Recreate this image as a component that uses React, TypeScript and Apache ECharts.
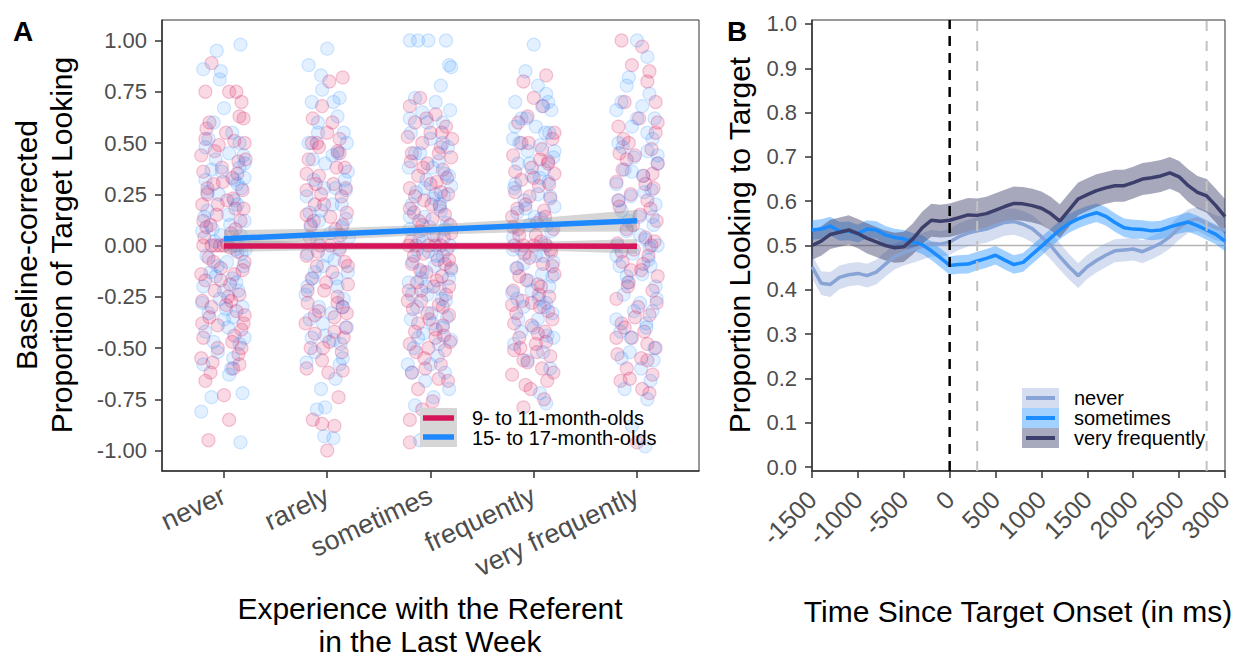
import React, { useEffect, useRef } from "react";
import * as echarts from "echarts";

const FONT = '"Liberation Sans", Arial, Helvetica, sans-serif';

// ---------- Panel A data ----------
const categories = ["never", "rarely", "sometimes", "frequently", "very frequently"];
const ageGroups = ["9- to 11-month-olds", "15- to 17-month-olds"];
const yTicksA = [-1, -0.75, -0.5, -0.25, 0, 0.25, 0.5, 0.75, 1];
const catTicks = [1, 2, 3, 4, 5];

// [jitter offset from category, baseline-corrected proportion]
const youngNever = [[-0.12,0.89],[0.12,0.75],[-0.18,0.75],[0.05,0.75],[0.17,0.70],[0.15,0.63],[-0.14,0.6],[-0.17,0.57],[0.2,0.5],[-0.05,0.49],[0.1,0.51],[-0.22,0.44],[0.14,0.41],[-0.02,0.38],[-0.2,0.36],[0.08,0.33],[-0.1,0.3],[0.18,0.27],[-0.16,0.25],[0.03,0.22],[-0.21,0.2],[0.11,0.18],[-0.07,0.15],[0.16,0.12],[-0.13,0.1],[0.07,0.06],[-0.19,0.04],[-0.08,0],[-0.04,0],[-0.12,0],[0.0,0],[-0.2,0],[0.13,-0.03],[-0.15,-0.06],[0.2,-0.08],[-0.03,-0.11],[0.1,-0.14],[-0.18,-0.17],[0.06,-0.19],[-0.09,-0.22],[0.15,-0.24],[-0.21,-0.27],[0.02,-0.29],[0.12,-0.32],[-0.14,-0.35],[0.19,-0.38],[0.17,-0.41],[-0.2,-0.45],[0.08,-0.47],[-0.06,-0.5],[0.14,-0.53],[-0.22,-0.55],[-0.11,-0.57],[0.09,-0.6],[-0.18,-0.66],[0.0,-0.73],[0.05,-0.85],[-0.15,-0.95],
  [0.21,0.42],[-0.01,0.31],[0.19,0.18],[-0.17,0.09],[0.06,-0.01],[-0.1,-0.08],[0.18,-0.12],[-0.22,-0.14],[0.04,-0.25],[-0.12,-0.3],[0.2,-0.34],[-0.06,-0.39],[0.1,-0.44],[-0.16,0.28],[0.13,0.35],[-0.09,0.46],[0.02,0.55],[0.19,0.62],[-0.2,0.12],[0.09,0.23],[-0.03,-0.17],[0.15,-0.58],[-0.13,-0.62],[0.03,0.01],[-0.21,-0.38],[0.11,0.08],[-0.06,0.2],[0.17,-0.5],[-0.18,0.52],[0.07,-0.27]];
const youngRarely = [[-0.15,0.5],[0.02,0.8],[0.15,0.82],[-0.05,0.68],[0.0,0.55],[-0.1,0.5],[0.1,0.46],[-0.18,0.42],[0.17,0.38],[-0.08,0.34],[0.06,0.3],[-0.2,0.27],[0.14,0.24],[-0.03,0.2],[0.19,0.16],[-0.13,0.12],[0.08,0.08],[-0.17,0.04],[0.03,0.0],[-0.07,0.0],[0.12,-0.02],[-0.2,-0.05],[0.17,-0.08],[-0.1,-0.1],[0.05,-0.13],[-0.15,-0.16],[0.2,-0.19],[-0.03,-0.22],[0.1,-0.25],[-0.19,-0.28],[0.15,-0.3],[-0.08,-0.32],[0.07,-0.35],[-0.21,-0.38],[0.18,-0.4],[-0.12,-0.43],[0.02,-0.47],[-0.16,-0.5],[0.14,-0.52],[-0.05,-0.56],[-0.2,-0.6],[0.15,-0.61],[0.11,-0.74],[-0.14,-0.85],[-0.05,-0.87],[0.07,-0.88],[0.0,-1.0],[0.12,0.45],[-0.12,0.2],
  [0.09,0.38],[-0.2,0.35],[0.18,0.28],[-0.06,0.25],[0.03,0.14],[-0.16,0.1],[0.13,0.05],[-0.09,-0.03],[0.2,-0.1],[-0.01,-0.18],[-0.19,-0.22],[0.1,-0.28],[-0.12,-0.34],[0.16,-0.45],[-0.04,-0.5],[0.05,0.6],[-0.14,0.62],[0.12,0.52],[0.01,-0.62],[-0.08,0.48],[0.19,-0.33],[-0.2,0.15],[0.07,-0.42],[-0.11,0.3],[0.15,0.1]];
const youngSometimes = [[-0.2,0.68],[-0.22,0.53],[-0.1,0.72],[0.05,0.64],[-0.15,0.6],[0.15,0.58],[0.0,0.55],[-0.08,0.5],[0.1,0.48],[-0.18,0.45],[0.2,0.43],[-0.03,0.4],[0.12,0.37],[-0.12,0.34],[0.06,0.31],[-0.2,0.28],[0.17,0.25],[-0.06,0.22],[0.09,0.19],[-0.16,0.16],[0.02,0.13],[0.19,0.1],[-0.1,0.07],[0.13,0.04],[-0.19,0.02],[-0.02,0],[0.05,0],[0.1,0],[-0.14,0],[0.16,-0.02],[-0.07,-0.04],[0.07,-0.07],[-0.18,-0.09],[0.2,-0.11],[-0.04,-0.13],[0.11,-0.15],[-0.13,-0.18],[0.03,-0.2],[-0.21,-0.22],[0.15,-0.24],[-0.09,-0.27],[0.08,-0.29],[-0.17,-0.31],[0.18,-0.34],[-0.01,-0.36],[0.12,-0.39],[-0.15,-0.42],[0.05,-0.45],[-0.2,-0.48],[0.14,-0.51],[-0.06,-0.55],[0.1,-0.58],[-0.18,-0.62],[0.17,-0.66],[-0.12,-0.7],[0.02,-0.76],[-0.08,-0.8],[-0.2,-0.85],[0.0,0.3],[0.18,-0.2],[-0.11,0.12],[0.08,0.45],[-0.05,-0.6],[-0.2,-0.96],[0.13,-0.44],
  [0.21,0.52],[-0.04,0.62],[0.1,0.26],[-0.2,0.18],[0.14,0.15],[-0.08,0.1],[0.03,0.05],[-0.16,-0.05],[0.18,-0.07],[-0.1,-0.12],[0.06,-0.17],[-0.22,-0.27],[0.12,-0.3],[-0.03,-0.33],[0.19,-0.47],[-0.14,-0.52],[0.08,-0.65],[-0.07,0.38],[0.16,0.33],[-0.19,0.41],[0.01,0.2],[-0.12,-0.38],[0.2,0.06],[-0.02,-0.5],[0.11,0.55],[-0.15,0.24],[0.05,-0.41],[-0.09,-0.22],[0.14,-0.09],[-0.21,0.0]];
const youngFrequently = [[-0.1,0.8],[0.12,0.83],[0.0,0.72],[-0.15,0.6],[0.18,0.52],[-0.05,0.5],[0.08,0.47],[-0.2,0.44],[0.14,0.41],[-0.02,0.38],[0.2,0.35],[-0.12,0.32],[0.05,0.29],[-0.18,0.26],[0.16,0.23],[-0.08,0.2],[0.1,0.17],[-0.21,0.14],[0.03,0.11],[0.19,0.08],[-0.14,0.05],[0.07,0.02],[-0.19,0],[-0.1,0],[0.0,0],[0.12,0],[0.17,-0.03],[-0.04,-0.06],[0.09,-0.09],[-0.16,-0.11],[0.2,-0.14],[-0.07,-0.17],[0.04,-0.19],[-0.2,-0.22],[0.15,-0.25],[-0.11,-0.27],[0.06,-0.3],[-0.17,-0.33],[0.18,-0.36],[-0.02,-0.39],[0.11,-0.42],[-0.14,-0.45],[0.02,-0.48],[-0.19,-0.51],[0.16,-0.54],[-0.06,-0.57],[0.08,-0.6],[-0.21,-0.63],[0.13,-0.66],[-0.03,-0.7],[0.1,-0.75],[-0.1,-0.79],[-0.15,0.08],[0.05,-0.24],[0.14,0.4],[-0.13,-0.5],
  [0.2,0.55],[-0.12,0.5],[0.06,0.42],[-0.18,0.36],[0.15,0.3],[-0.04,0.24],[0.11,0.14],[-0.2,0.09],[0.02,0.05],[-0.09,-0.04],[0.18,-0.1],[-0.14,-0.15],[0.07,-0.2],[-0.02,-0.28],[0.14,-0.32],[-0.19,-0.38],[0.04,-0.43],[-0.1,-0.56],[0.19,-0.62],[-0.06,0.63],[0.09,0.68],[-0.16,0.18],[0.12,-0.47],[-0.21,-0.29],[0.0,0.33],[0.16,-0.02],[-0.08,-0.68],[0.03,-0.52]];
const youngVeryFrequently = [[-0.15,1.0],[0.05,0.97],[-0.05,0.88],[0.12,0.85],[0.1,0.8],[-0.12,0.7],[0.02,0.62],[-0.18,0.58],[0.18,0.55],[-0.08,0.5],[0.14,0.47],[-0.02,0.44],[0.2,0.4],[-0.14,0.37],[0.06,0.34],[-0.2,0.31],[0.16,0.28],[-0.06,0.25],[0.1,0.22],[-0.17,0.19],[0.03,0.15],[0.19,0.12],[-0.1,0.08],[0.08,0.04],[-0.19,0.01],[0.14,0],[-0.03,-0.02],[0.11,-0.05],[-0.14,-0.08],[0.04,-0.12],[0.2,-0.15],[-0.08,-0.18],[0.15,-0.22],[-0.2,-0.26],[0.01,-0.3],[0.12,-0.34],[-0.15,-0.38],[0.07,-0.42],[-0.05,-0.45],[0.18,-0.5],[-0.19,-0.53],[0.1,-0.56],[-0.1,-0.6],[0.15,-0.63],[-0.16,-0.66],[0.05,-0.7],[0.0,-0.96],[-0.12,-0.4],[0.18,0.7],[-0.06,-0.12],
  [0.2,0.6],[-0.1,0.42],[0.08,0.3],[-0.18,0.22],[0.13,0.18],[-0.04,0.1],[0.17,0.02],[-0.15,-0.03],[0.06,-0.09],[-0.09,-0.2],[0.19,-0.28],[-0.02,-0.35],[0.1,-0.48],[-0.2,-0.45],[0.04,-0.55],[-0.13,0.52],[0.15,0.35],[-0.07,-0.65],[0.12,-0.72],[-0.17,0.45]];

const oldNever = [[-0.2,0.86],[-0.07,0.95],[0.16,0.98],[-0.03,0.85],[-0.04,0.81],[0.0,0.67],[-0.1,0.6],[0.15,0.5],[-0.18,0.48],[0.05,0.45],[0.2,0.4],[-0.12,0.37],[0.1,0.32],[0.17,0.28],[-0.05,0.25],[0.13,0.2],[-0.16,0.17],[0.2,0.12],[0.06,0.1],[-0.21,0.07],[0.16,0.05],[-0.09,0.02],[0.11,-0.02],[-0.17,-0.05],[0.03,-0.08],[0.19,-0.1],[-0.13,-0.13],[0.08,-0.16],[-0.2,-0.2],[0.14,-0.22],[-0.04,-0.26],[0.18,-0.3],[-0.15,-0.33],[0.0,-0.36],[-0.18,-0.42],[0.15,-0.48],[-0.06,-0.52],[0.09,-0.55],[-0.2,-0.58],[0.05,-0.63],[-0.12,-0.74],[0.18,-0.72],[-0.22,-0.81],[0.16,-0.96],[0.2,0.33],[-0.08,0.42],[0.04,-0.4],[0.12,0.0],
  [0.08,0.55],[-0.15,0.52],[0.19,0.44],[-0.02,0.36],[0.1,0.22],[-0.19,0.14],[0.04,0.15],[-0.11,0.08],[0.17,-0.04],[-0.06,-0.1],[0.12,-0.18],[-0.21,-0.28],[0.02,-0.31],[0.2,-0.45],[-0.1,-0.47],[0.13,0.3],[-0.16,0.26],[0.07,-0.6],[-0.03,0.05],[0.15,0.38],[-0.08,-0.15],[0.21,-0.02],[-0.18,0.32],[0.0,-0.22],[0.09,-0.35]];
const oldRarely = [[0.0,0.96],[-0.18,0.88],[-0.06,0.83],[0.06,0.7],[-0.05,0.76],[0.12,0.72],[-0.15,0.7],[0.1,0.63],[-0.09,0.6],[0.16,0.55],[-0.18,0.5],[0.05,0.44],[-0.02,0.4],[0.2,0.36],[-0.13,0.32],[0.08,0.28],[-0.2,0.24],[0.14,0.2],[-0.06,0.17],[0.18,0.13],[-0.16,0.09],[0.03,0.06],[-0.1,0.03],[0.12,-0.01],[-0.19,-0.04],[0.07,-0.07],[-0.04,-0.1],[0.2,-0.13],[-0.14,-0.16],[0.1,-0.2],[-0.21,-0.24],[0.16,-0.26],[-0.08,-0.3],[0.04,-0.33],[-0.17,-0.36],[0.19,-0.4],[-0.02,-0.44],[0.13,-0.48],[-0.12,-0.52],[0.15,-0.55],[-0.2,-0.57],[-0.06,-0.7],[-0.1,-0.8],[-0.02,-0.79],[0.06,-0.94],[-0.03,-0.93],[0.08,-0.65],[0.18,0.27],
  [0.1,0.45],[-0.14,0.42],[0.17,0.32],[-0.03,0.28],[0.05,0.2],[-0.17,0.16],[0.14,0.09],[-0.08,0.12],[0.21,0.04],[0.0,-0.05],[-0.12,-0.13],[0.09,-0.16],[-0.19,-0.2],[0.15,-0.3],[-0.04,-0.38],[0.06,-0.46],[-0.15,-0.45],[0.19,0.5],[-0.09,0.55],[0.12,-0.58]];
const oldSometimes = [[-0.2,1.0],[-0.12,1.0],[-0.02,1.0],[0.15,1.0],[0.18,0.88],[0.2,0.87],[-0.15,0.72],[0.05,0.7],[-0.08,0.65],[0.12,0.6],[-0.19,0.55],[0.0,0.52],[0.17,0.48],[-0.1,0.45],[0.08,0.41],[-0.21,0.38],[0.14,0.35],[-0.04,0.32],[0.2,0.29],[-0.14,0.26],[0.03,0.23],[-0.18,0.2],[0.1,0.17],[-0.06,0.14],[0.16,0.11],[-0.2,0.08],[0.06,0.05],[-0.11,0.03],[0.19,0.0],[-0.02,-0.03],[0.12,-0.05],[-0.17,-0.08],[0.04,-0.1],[-0.08,-0.13],[0.18,-0.16],[-0.21,-0.18],[0.09,-0.21],[-0.03,-0.24],[0.15,-0.27],[-0.13,-0.3],[0.01,-0.33],[-0.19,-0.36],[0.12,-0.4],[-0.07,-0.43],[0.2,-0.46],[-0.16,-0.5],[0.07,-0.54],[-0.22,-0.58],[0.14,-0.62],[-0.05,-0.66],[0.18,-0.7],[-0.15,-0.78],[0.03,-0.74],[-0.1,-0.95],[0.1,0.78],[-0.18,-0.62],[0.05,0.25],[-0.04,-0.2],
  [0.12,0.5],[-0.15,0.45],[0.02,0.38],[0.18,0.34],[-0.06,0.28],[0.09,0.2],[-0.2,0.14],[0.14,0.08],[-0.01,0.09],[-0.13,-0.02],[0.06,-0.05],[0.2,-0.12],[-0.09,-0.16],[0.11,-0.26],[-0.18,-0.24],[0.02,-0.38],[0.16,-0.35],[-0.12,-0.45],[0.08,-0.48],[-0.03,0.6],[0.19,0.66],[-0.2,0.62],[0.0,-0.58],[0.13,0.24],[-0.07,0.02]];
const oldFrequently = [[0.0,0.98],[-0.08,0.85],[0.04,0.78],[0.12,0.74],[-0.18,0.7],[0.08,0.68],[0.17,0.66],[-0.12,0.62],[0.02,0.58],[0.15,0.55],[-0.2,0.52],[0.06,0.49],[-0.06,0.46],[0.19,0.43],[-0.15,0.4],[0.1,0.37],[-0.02,0.34],[0.14,0.31],[-0.19,0.28],[0.04,0.25],[-0.09,0.22],[0.2,0.19],[-0.16,0.16],[0.07,0.13],[-0.04,0.1],[0.17,0.07],[-0.2,0.04],[0.11,0.01],[-0.12,-0.02],[0.02,-0.05],[0.19,-0.08],[-0.17,-0.11],[0.08,-0.14],[-0.05,-0.17],[0.15,-0.2],[-0.21,-0.23],[0.05,-0.26],[-0.1,-0.3],[0.18,-0.33],[-0.15,-0.36],[0.0,-0.4],[0.13,-0.44],[-0.19,-0.48],[0.09,-0.52],[-0.06,-0.56],[0.16,-0.6],[0.06,-0.72],[0.12,-0.77],[-0.18,0.58],[0.1,-0.3],
  [0.11,0.55],[-0.14,0.5],[0.2,0.46],[-0.04,0.4],[0.06,0.33],[-0.18,0.3],[0.16,0.24],[-0.08,0.18],[0.01,0.14],[0.13,0.1],[-0.2,-0.02],[0.09,-0.05],[-0.1,-0.09],[0.18,-0.15],[-0.02,-0.22],[0.12,-0.28],[-0.16,-0.26],[0.04,-0.36],[-0.12,-0.42],[0.19,-0.45],[-0.07,0.62],[0.14,0.7]];
const oldVeryFrequently = [[0.0,1.0],[0.1,0.92],[-0.08,0.82],[-0.1,0.78],[0.12,0.74],[-0.15,0.7],[0.05,0.68],[0.17,0.62],[-0.05,0.58],[0.15,0.52],[-0.18,0.5],[0.1,0.46],[-0.03,0.43],[0.2,0.4],[-0.12,0.37],[0.06,0.34],[-0.2,0.3],[0.14,0.27],[-0.06,0.24],[0.18,0.2],[-0.15,0.17],[0.02,0.14],[0.16,0.1],[-0.1,0.07],[0.08,0.03],[-0.19,0.0],[0.2,0.0],[0.12,-0.01],[-0.04,-0.04],[0.11,-0.07],[-0.17,-0.1],[0.05,-0.14],[-0.09,-0.18],[0.18,-0.2],[-0.13,-0.24],[0.03,-0.28],[0.15,-0.32],[-0.2,-0.36],[0.09,-0.4],[-0.06,-0.45],[0.17,-0.5],[-0.15,-0.55],[0.04,-0.6],[0.13,-0.66],[-0.12,-0.7],[0.1,-0.75],[-0.05,-0.88],[0.08,-0.98],
  [0.1,0.55],[-0.14,0.48],[0.2,0.44],[-0.05,0.36],[0.07,0.26],[-0.18,0.22],[0.15,0.14],[-0.08,0.12],[0.03,0.05],[-0.2,-0.05],[0.13,-0.1],[-0.1,-0.15],[0.19,-0.26],[-0.03,-0.32],[0.09,-0.38],[-0.16,-0.42],[0.16,-0.56],[-0.07,-0.52],[0.0,0.62],[-0.2,0.66]];

// linear fits with confidence bands at categories 1..5
const youngFit = [-0.003, -0.003, -0.003, -0.003, -0.004];
const youngLo = [-0.033, -0.022, -0.019, -0.023, -0.04];
const youngHi = [0.027, 0.016, 0.013, 0.017, 0.032];
const oldFit = [0.033, 0.055, 0.077, 0.099, 0.121];
const oldLo = [-0.008, 0.027, 0.053, 0.066, 0.068];
const oldHi = [0.074, 0.083, 0.101, 0.132, 0.174];

// ---------- Panel B data ----------
const freqLabels = ["never", "sometimes", "very frequently"];
const timeMs = [-1500,-1400,-1300,-1200,-1100,-1000,-900,-800,-700,-600,-500,-400,-300,-200,-100,0,100,200,300,400,500,600,700,800,900,1000,1100,1200,1300,1400,1500,1600,1700,1800,1900,2000,2100,2200,2300,2400,2500,2600,2700,2800,2900,3000];
const neverMean = [0.452,0.415,0.412,0.428,0.434,0.437,0.432,0.44,0.458,0.475,0.484,0.491,0.498,0.505,0.503,0.508,0.52,0.528,0.533,0.537,0.545,0.552,0.554,0.548,0.538,0.52,0.5,0.475,0.452,0.432,0.452,0.466,0.478,0.488,0.49,0.492,0.486,0.495,0.505,0.52,0.54,0.555,0.56,0.55,0.54,0.535];
const neverCi = [0.026,0.027,0.028,0.027,0.026,0.026,0.027,0.028,0.028,0.029,0.029,0.03,0.03,0.03,0.029,0.029,0.03,0.03,0.031,0.031,0.031,0.03,0.03,0.03,0.031,0.031,0.031,0.03,0.029,0.028,0.027,0.027,0.027,0.026,0.026,0.026,0.026,0.026,0.026,0.027,0.027,0.027,0.027,0.028,0.028,0.028];
const sometimesMean = [0.535,0.537,0.544,0.532,0.533,0.527,0.537,0.535,0.524,0.518,0.515,0.508,0.502,0.488,0.472,0.455,0.457,0.458,0.465,0.471,0.478,0.467,0.457,0.462,0.48,0.498,0.517,0.535,0.55,0.56,0.568,0.574,0.566,0.552,0.54,0.537,0.536,0.533,0.535,0.542,0.548,0.553,0.545,0.535,0.525,0.51];
const sometimesCi = [0.022,0.022,0.021,0.021,0.021,0.02,0.02,0.02,0.02,0.02,0.02,0.02,0.021,0.021,0.021,0.021,0.021,0.021,0.021,0.021,0.021,0.021,0.021,0.021,0.021,0.021,0.021,0.021,0.021,0.021,0.021,0.021,0.021,0.021,0.021,0.021,0.021,0.021,0.021,0.021,0.021,0.022,0.022,0.022,0.022,0.023];
const veryFreqMean = [0.5,0.51,0.525,0.53,0.535,0.527,0.516,0.508,0.5,0.495,0.497,0.515,0.54,0.557,0.555,0.557,0.563,0.569,0.568,0.572,0.58,0.588,0.595,0.594,0.59,0.584,0.572,0.555,0.58,0.605,0.615,0.624,0.63,0.635,0.635,0.642,0.65,0.653,0.657,0.664,0.655,0.635,0.62,0.612,0.59,0.565];
const veryFreqCi = [0.032,0.033,0.033,0.033,0.033,0.033,0.034,0.034,0.034,0.034,0.034,0.035,0.036,0.037,0.037,0.038,0.038,0.038,0.038,0.038,0.038,0.038,0.038,0.038,0.038,0.038,0.038,0.038,0.038,0.037,0.037,0.037,0.036,0.036,0.036,0.036,0.036,0.036,0.036,0.036,0.036,0.037,0.037,0.038,0.038,0.04];
const yTicksB = [0, 0.1, 0.2, 0.3, 0.4, 0.5, 0.6, 0.7, 0.8, 0.9, 1.0];
const onsetMs = 0;
const windowMs = [300, 2800];
const chanceLevel = 0.5;
const yRangeB = [-0.009, 1.009];
const xRangeB = [-1500, 3000];

const RED = "#D6145A";
const BLUE = "#1E88FF";
const LINE_COLORS = ["#88a3d5", "#1a8cff", "#3c3f6b"];
const RIBBON_COLORS = ["rgba(132,161,212,0.35)", "rgba(26,140,255,0.4)", "rgba(60,63,107,0.45)"];
const KEY_FILLS = ["#d4def0", "#a3d1ff", "#a7a9bc"];

const AXIS_COLOR = "#333333";
const TICK_LABEL = "#4d4d4d";

function textEl(x: number, y: number, text: string, size: number, opts: any = {}) {
  return {
    type: "text",
    x,
    y,
    rotation: opts.rotation || 0,
    z: 100,
    style: {
      text,
      font: `${opts.bold ? "bold " : ""}${size}px ${FONT}`,
      fill: opts.fill || "#000",
      align: opts.align || "left",
      textAlign: opts.align || "left",
      verticalAlign: "middle",
      textVerticalAlign: "middle",
      lineHeight: opts.lineHeight || size,
    },
  };
}

function bandSeries(xs: number[], lo: number[], hi: number[], color: string, axisIndex: number, z: number) {
  return {
    type: "custom",
    coordinateSystem: "cartesian2d",
    xAxisIndex: axisIndex,
    yAxisIndex: axisIndex,
    z,
    silent: true,
    clip: true,
    data: [[xs[0], lo[0]]],
    encode: { x: 0, y: 1 },
    renderItem: (_params: any, api: any) => {
      const pts: number[][] = [];
      for (let i = 0; i < xs.length; i++) pts.push(api.coord([xs[i], hi[i]]));
      for (let i = xs.length - 1; i >= 0; i--) pts.push(api.coord([xs[i], lo[i]]));
      return { type: "polygon", shape: { points: pts }, style: { fill: color } };
    },
  };
}

export default function App() {
  const ref = useRef<HTMLDivElement>(null);

  useEffect(() => {
    if (!ref.current) return;
    const chart = echarts.init(ref.current, null, { renderer: "svg" });

    const youngSets = [youngNever, youngRarely, youngSometimes, youngFrequently, youngVeryFrequently];
    const oldSets = [oldNever, oldRarely, oldSometimes, oldFrequently, oldVeryFrequently];
    const toPts = (sets: number[][][]) =>
      sets.flatMap((arr, ci) => arr.map(([dx, y]) => [ci + 1 + dx, y]));

    const series: any[] = [];

    series.push({
      type: "scatter", xAxisIndex: 0, yAxisIndex: 0, z: 2, silent: true,
      symbol: "circle", symbolSize: 13,
      itemStyle: { color: "rgba(214,20,90,0.2)", borderColor: "rgba(214,20,90,0.28)", borderWidth: 1.2 },
      data: toPts(youngSets),
    });
    series.push({
      type: "scatter", xAxisIndex: 0, yAxisIndex: 0, z: 2, silent: true,
      symbol: "circle", symbolSize: 13,
      itemStyle: { color: "rgba(30,136,255,0.16)", borderColor: "rgba(30,136,255,0.24)", borderWidth: 1.2 },
      data: toPts(oldSets),
    });

    series.push(bandSeries(catTicks, youngLo, youngHi, "rgba(153,153,153,0.4)", 0, 3));
    series.push(bandSeries(catTicks, oldLo, oldHi, "rgba(153,153,153,0.4)", 0, 3));
    series.push({
      type: "line", xAxisIndex: 0, yAxisIndex: 0, z: 4, silent: true, symbol: "none",
      lineStyle: { color: RED, width: 5.5 },
      data: catTicks.map((x, i) => [x, youngFit[i]]),
    });
    series.push({
      type: "line", xAxisIndex: 0, yAxisIndex: 0, z: 4, silent: true, symbol: "none",
      lineStyle: { color: BLUE, width: 5.5 },
      data: catTicks.map((x, i) => [x, oldFit[i]]),
    });

    // Panel B
    series.push({
      type: "line", xAxisIndex: 1, yAxisIndex: 1, z: 1, silent: true, symbol: "none",
      lineStyle: { color: "#b3b3b3", width: 1.5 },
      data: xRangeB.map((x) => [x, chanceLevel]),
    });
    const means = [neverMean, sometimesMean, veryFreqMean];
    const cis = [neverCi, sometimesCi, veryFreqCi];
    means.forEach((m, g) => {
      const lo = m.map((v, i) => v - cis[g][i]);
      const hi = m.map((v, i) => v + cis[g][i]);
      series.push(bandSeries(timeMs, lo, hi, RIBBON_COLORS[g], 1, 2));
    });
    means.forEach((m, g) => {
      series.push({
        type: "line", xAxisIndex: 1, yAxisIndex: 1, z: 3, silent: true, symbol: "none",
        lineStyle: { color: LINE_COLORS[g], width: 3.5 },
        data: timeMs.map((t, i) => [t, m[i]]),
      });
    });
    series.push({
      type: "line", xAxisIndex: 1, yAxisIndex: 1, z: 5, silent: true, symbol: "none",
      lineStyle: { color: "#000", width: 2.5, type: [10, 7] },
      data: yRangeB.map((y) => [onsetMs, y]),
    });
    windowMs.forEach((w) => {
      series.push({
        type: "line", xAxisIndex: 1, yAxisIndex: 1, z: 5, silent: true, symbol: "none",
        lineStyle: { color: "#c2c2c2", width: 2, type: [10, 10] },
        data: yRangeB.map((y) => [w, y]),
      });
    });

    const axisLine = { show: true, onZero: false, lineStyle: { color: AXIS_COLOR, width: 1.5 } };

    const graphic: any[] = [
      textEl(13, 31, "A", 28, { bold: true }),
      textEl(727, 31, "B", 28, { bold: true }),
      textEl(44, 245, "Baseline-corrected\nProportion of Target Looking", 30, { align: "center", rotation: Math.PI / 2, lineHeight: 35 }),
      textEl(430, 625, "Experience with the Referent\nin the Last Week", 30, { align: "center", lineHeight: 33 }),
      textEl(739, 245, "Proportion Looking to Target", 30, { align: "center", rotation: Math.PI / 2 }),
      textEl(1018, 611, "Time Since Target Onset (in ms)", 30, { align: "center" }),
      // legend A
      { type: "rect", z: 90, shape: { x: 420, y: 408, width: 37, height: 39 }, style: { fill: "#d6d6d6" } },
      { type: "line", z: 91, shape: { x1: 423, y1: 418, x2: 454, y2: 418 }, style: { stroke: RED, lineWidth: 5.5 } },
      { type: "line", z: 91, shape: { x1: 423, y1: 437, x2: 454, y2: 437 }, style: { stroke: BLUE, lineWidth: 5.5 } },
      textEl(472, 418, ageGroups[0], 20),
      textEl(472, 438, ageGroups[1], 20),
    ];
    freqLabels.forEach((lab, i) => {
      graphic.push({ type: "rect", z: 90, shape: { x: 1022, y: 388 + 20 * i, width: 37, height: 20 }, style: { fill: KEY_FILLS[i] } });
      graphic.push({ type: "line", z: 91, shape: { x1: 1026, y1: 398 + 20 * i, x2: 1055, y2: 398 + 20 * i }, style: { stroke: LINE_COLORS[i], lineWidth: 4 } });
      graphic.push(textEl(1074, 398 + 20 * i, lab, 20));
    });

    const option: any = {
      animation: false,
      backgroundColor: "#ffffff",
      textStyle: { fontFamily: FONT },
      grid: [
        { left: 162, top: 20, width: 537, height: 451, show: true, borderColor: AXIS_COLOR, borderWidth: 1, backgroundColor: "#fff" },
        { left: 812, top: 20, width: 413, height: 451, show: true, borderColor: AXIS_COLOR, borderWidth: 1, backgroundColor: "#fff" },
      ],
      xAxis: [
        {
          type: "value", gridIndex: 0, min: 0.4, max: 5.6,
          splitLine: { show: false }, axisLine,
          axisTick: { show: true, customValues: catTicks, length: 7, lineStyle: { color: AXIS_COLOR, width: 1.5 } },
          axisLabel: {
            customValues: catTicks, rotate: 25, margin: 23, fontSize: 27, color: TICK_LABEL, fontFamily: FONT,
            formatter: (v: number) => categories[Math.round(v) - 1] || "",
          },
        },
        {
          type: "value", gridIndex: 1, min: xRangeB[0], max: xRangeB[1], interval: 500,
          splitLine: { show: false }, axisLine,
          axisTick: { show: true, length: 7, lineStyle: { color: AXIS_COLOR, width: 1.5 } },
          axisLabel: {
            rotate: 45, margin: 24, fontSize: 25, color: TICK_LABEL, fontFamily: FONT,
            formatter: (v: number) => String(v),
          },
        },
      ],
      yAxis: [
        {
          type: "value", gridIndex: 0, min: -1.1, max: 1.1,
          splitLine: { show: false }, axisLine,
          axisTick: { show: true, customValues: yTicksA, length: 7, lineStyle: { color: AXIS_COLOR, width: 1.5 } },
          axisLabel: {
            customValues: yTicksA, margin: 15, fontSize: 22, color: TICK_LABEL, fontFamily: FONT,
            formatter: (v: number) => v.toFixed(2),
          },
        },
        {
          type: "value", gridIndex: 1, min: yRangeB[0], max: yRangeB[1],
          splitLine: { show: false }, axisLine,
          axisTick: { show: true, customValues: yTicksB, length: 7, lineStyle: { color: AXIS_COLOR, width: 1.5 } },
          axisLabel: {
            customValues: yTicksB, margin: 15, fontSize: 22, color: TICK_LABEL, fontFamily: FONT,
            formatter: (v: number) => v.toFixed(1),
          },
        },
      ],
      series,
      graphic,
    };

    chart.setOption(option);
    return () => chart.dispose();
  }, []);

  return (
    <div
      ref={ref}
      style={{ position: "fixed", left: 0, top: 0, width: 1252, height: 659, background: "#fff" }}
    />
  );
}
